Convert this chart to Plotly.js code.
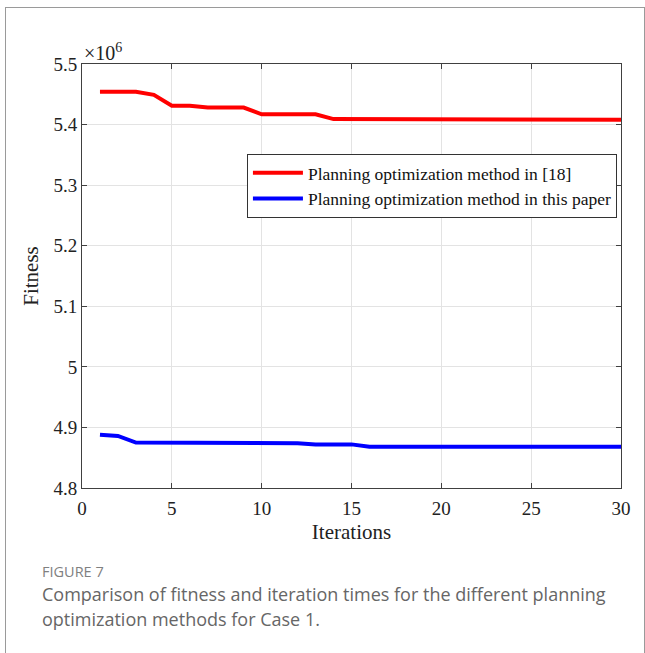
<!DOCTYPE html>
<html>
<head>
<meta charset="utf-8">
<script src="https://cdn.plot.ly/plotly-3.0.1.min.js"></script>
<style>
  html, body { margin: 0; padding: 0; background: #fff; }
  #wrap { position: relative; width: 645px; height: 653px; overflow: hidden; }
  #frame { position: absolute; left: 5px; top: 7px; width: 640px; height: 660px;
           border: 1px solid #9a9a9a; box-sizing: border-box; pointer-events: none; }
  #chart { position: absolute; left: 0; top: 0; width: 645px; height: 653px; }
</style>
</head>
<body>
<div id="wrap">
  <div id="chart"></div>
  <div id="frame"></div>
</div>
<script>
// Fitness per iteration, in units of 10^6
const iterations = [1,2,3,4,5,6,7,8,9,10,11,12,13,14,15,16,17,18,19,20,21,22,23,24,25,26,27,28,29,30];
const fitnessRef18 = [5.454,5.454,5.454,5.449,5.431,5.431,5.428,5.428,5.428,5.417,
                      5.417,5.417,5.417,5.409,5.409,5.409,5.409,5.409,5.409,5.409,
                      5.409,5.409,5.409,5.409,5.409,5.409,5.408,5.408,5.408,5.408];
const fitnessThisPaper = [4.888,4.886,4.875,4.875,4.875,4.875,4.875,4.874,4.874,4.874,
                          4.874,4.874,4.872,4.872,4.872,4.868,4.868,4.868,4.868,4.868,
                          4.868,4.868,4.868,4.868,4.868,4.868,4.868,4.868,4.868,4.868];
const seriesNames = ['Planning optimization method in [18]', 'Planning optimization method in this paper'];
const xTicks = [0,5,10,15,20,25,30];
const yTicks = [4.8,4.9,5.0,5.1,5.2,5.3,5.4,5.5];

const serif = 'Liberation Serif';
const sans = 'Open Sans';

const traces = [
  { x: iterations, y: fitnessRef18, name: seriesNames[0], type: 'scatter', mode: 'lines',
    line: { color: '#ff0000', width: 4 } },
  { x: iterations, y: fitnessThisPaper, name: seriesNames[1], type: 'scatter', mode: 'lines',
    line: { color: '#0000ff', width: 4 } }
];

function axis(extra) {
  return Object.assign({
    showline: true, linecolor: '#404040', linewidth: 1, mirror: 'ticks',
    ticks: 'inside', ticklen: 5, tickcolor: '#404040', tickwidth: 1,
    showgrid: true, gridcolor: '#e3e3e3', gridwidth: 1, zeroline: false,
    tickfont: { family: serif, size: 19, color: '#222222' }
  }, extra);
}

const layout = {
  width: 645, height: 653,
  font: { family: serif, size: 19, color: '#222222' },
  margin: { l: 82, r: 24, t: 64, b: 165 },
  paper_bgcolor: '#fff', plot_bgcolor: '#fff',
  showlegend: true,
  legend: {
    x: 0.306, y: 0.788, xanchor: 'left', yanchor: 'top',
    bgcolor: '#fff', bordercolor: '#333', borderwidth: 1,
    font: { family: serif, size: 17.5, color: '#111' },
    itemwidth: 50, tracegroupgap: 0
  },
  xaxis: axis({
    range: [0, 30], tickvals: xTicks, ticklabelstandoff: 3,
    title: { text: 'Iterations', font: { family: serif, size: 21, color: '#222222' }, standoff: 6 }
  }),
  yaxis: axis({
    range: [4.8, 5.5], tickvals: yTicks, ticktext: yTicks.map(v => String(+v.toFixed(1))),
    title: { text: 'Fitness', font: { family: serif, size: 21, color: '#222222' }, standoff: 9 }
  }),
  annotations: [
    { xref: 'paper', yref: 'paper', x: 0.0, y: 1.0, xanchor: 'left', yanchor: 'bottom',
      text: '×10<sup>6</sup>', showarrow: false, yshift: -2,
      font: { family: serif, size: 20, color: '#222222' } },
    { xref: 'paper', yref: 'paper', x: -0.0779, y: -0.196, xanchor: 'left', yanchor: 'middle',
      text: 'FIGURE 7', showarrow: false,
      font: { family: sans, size: 14.5, color: '#808080' } },
    { xref: 'paper', yref: 'paper', x: -0.0779, y: -0.250, xanchor: 'left', yanchor: 'middle',
      text: 'Comparison of fitness and iteration times for the different planning', showarrow: false,
      font: { family: sans, size: 18, color: '#666666' } },
    { xref: 'paper', yref: 'paper', x: -0.0779, y: -0.309, xanchor: 'left', yanchor: 'middle',
      text: 'optimization methods for Case 1.', showarrow: false,
      font: { family: sans, size: 18, color: '#666666' } }
  ]
};

Plotly.newPlot('chart', traces, layout, { displayModeBar: false, staticPlot: true });
</script>
</body>
</html>
